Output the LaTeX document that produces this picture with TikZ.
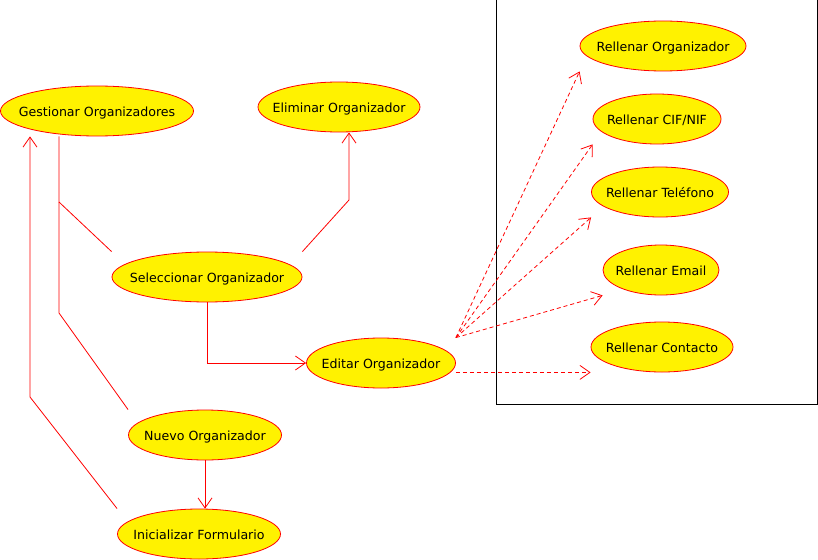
\documentclass[tikz,border=0pt]{standalone}
\usepackage{fontspec}
\setmainfont{DejaVu Sans}
\usetikzlibrary{arrows.meta,shapes.geometric}

% text box of no width, so the ellipse keeps the size given to it
\newcommand{\txt}[1]{\makebox[0pt]{#1}}

\begin{document}
\begin{tikzpicture}[x=1pt,y=-1pt,
  every node/.style={font=\fontsize{12.6}{15}\selectfont},
  caso/.style={ellipse,draw=red,fill=yellow,line width=0.8pt,minimum height=50pt,inner sep=0pt,
    text height=11pt,text depth=0.4pt},
  rel/.style={red,line width=0.8pt},
  flecha/.style={rel,-{Straight Barb[length=10pt,width=14pt]}},
  incluye/.style={flecha,dash pattern=on 4pt off 3pt}]
  \useasboundingbox (0,0) rectangle (818,559);

  %--- system boundary
  \draw[line width=1pt] (496,0) rectangle (817.5,404);

  %==================== use cases ====================
  \node[caso,minimum width=193pt] (gest)  at (97,111)  {\txt{Gestionar Organizadores}};
  \node[caso,minimum width=162pt] (elim)  at (339,107) {\txt{Eliminar Organizador}};
  \node[caso,minimum width=190pt] (sel)   at (207,277) {\txt{Seleccionar Organizador}};
  \node[caso,minimum width=149pt] (edit)  at (381,363) {\txt{Editar Organizador}};
  \node[caso,minimum width=153pt] (nuevo) at (205,435) {\txt{Nuevo Organizador}};
  \node[caso,minimum width=163pt] (ini)   at (199,534) {\txt{Inicializar Formulario}};

  % inside the boundary
  \node[caso,minimum width=166pt] (rorg)   at (663,46)  {\txt{Rellenar Organizador}};
  \node[caso,minimum width=128pt] (rcif)   at (657,119) {\txt{Rellenar CIF/NIF}};
  \node[caso,minimum width=137pt] (rtel)   at (660,192) {\txt{Rellenar Teléfono}};
  \node[caso,minimum width=116pt] (remail) at (661,270) {\txt{Rellenar Email}};
  \node[caso,minimum width=142pt] (rcont)  at (662,347) {\txt{Rellenar Contacto}};

  %==================== connectors ====================
  % Gestionar -- Seleccionar / Nuevo
  \coordinate (g1) at (59,202);
  \coordinate (g2) at (59,313);
  \draw[rel] (gest.south -| g1) -- (g1) -- (sel.west |- sel.north);
  \draw[rel] (g1) -- (g2) -- (nuevo.west |- nuevo.north);

  % Inicializar -> Gestionar
  \coordinate (i1) at (30,397);
  \draw[flecha] (ini.west |- ini.north) -- (i1) -- (i1 |- gest.south);

  % Seleccionar -> Eliminar
  \coordinate (e1) at (349,200);
  \draw[flecha] (sel.east |- sel.north) -- (e1) -- (e1 |- elim.south);

  % Seleccionar -> Editar, Nuevo -> Inicializar
  \draw[flecha] (sel.south) |- (edit.west);
  \draw[flecha] (nuevo.south) -- (nuevo.south |- ini.north);

  % Editar -> Rellenar ...
  \coordinate (o) at (edit.east |- edit.north);
  \draw[incluye] (o) -- (rorg.west |- rorg.south);
  \draw[incluye] (o) -- (rcif.west |- rcif.south);
  \draw[incluye] (o) -- (rtel.west |- rtel.south);
  \draw[incluye] (o) -- (remail.west |- remail.south);
  \draw[incluye] (edit.east |- rcont.south) -- (rcont.west |- rcont.south);

\end{tikzpicture}
\end{document}
